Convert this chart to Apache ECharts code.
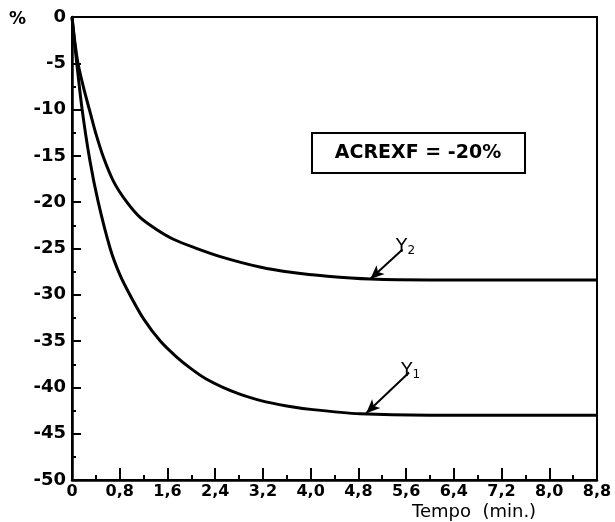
<!DOCTYPE html>
<html>
<head>
<meta charset="utf-8">
<script src="https://cdn.jsdelivr.net/npm/echarts@6/dist/echarts.min.js"></script>
<style>html,body{margin:0;padding:0;background:#fff;}#c{width:615px;height:522px;}</style>
</head>
<body>
<div id="c"></div>
<script>
// Data
var y1Time = [0, 0.04, 0.08, 0.17, 0.30, 0.44, 0.64, 0.80, 0.97, 1.20, 1.48, 1.75, 2.0, 2.25, 2.53, 2.8, 3.15, 3.6, 4.04, 4.83, 6.0, 7.2, 8.8];
var y1Vals = [0, -2.6, -5, -10, -15.5, -20, -25, -27.8, -30, -32.6, -35, -36.7, -38.0, -39.1, -40, -40.7, -41.4, -42.0, -42.4, -42.85, -43.0, -43.0, -43.0];
var y2Time = [0, 0.05, 0.10, 0.20, 0.30, 0.40, 0.53, 0.70, 0.92, 1.15, 1.43, 1.70, 2.05, 2.5, 3.15, 3.7, 4.28, 5.0, 6.0, 7.2, 8.8];
var y2Vals = [0, -2.8, -5, -7.8, -10.2, -12.6, -15.2, -17.8, -20, -21.7, -23, -24.0, -24.9, -25.9, -27.0, -27.6, -28.0, -28.3, -28.4, -28.4, -28.4];
var xTicks = [0, 0.8, 1.6, 2.4, 3.2, 4.0, 4.8, 5.6, 6.4, 7.2, 8.0, 8.8];
var yTicks = [0, -5, -10, -15, -20, -25, -30, -35, -40, -45, -50];
var boxText = 'ACREXF = -20%';
var y2Arrow = [[5.54, -25.1], [5.0, -28.3]];
var y1Arrow = [[5.65, -38.4], [4.93, -42.8]];

function pairs(t, v) { return t.map(function (x, i) { return [x, v[i]]; }); }
var font = 'DejaVu Sans';

var chart = echarts.init(document.getElementById('c'));
chart.setOption({
  animation: false,
  grid: { left: 72, right: 18, top: 17, bottom: 42, show: true, borderColor: '#000', borderWidth: 2, backgroundColor: 'transparent' },
  xAxis: {
    type: 'value', min: 0, max: 8.8, interval: 0.8,
    axisLine: { onZero: false, lineStyle: { color: '#000', width: 2.5 } },
    axisTick: { inside: true, length: 12, lineStyle: { color: '#000', width: 2 } },
    minorTick: { show: true, splitNumber: 2, length: 5, lineStyle: { color: '#000', width: 2 } },
    splitLine: { show: false },
    axisLabel: {
      color: '#000', fontFamily: font, fontWeight: 'bold', fontSize: 16, margin: 4,
      formatter: function (v) {
        var r = Math.round(v * 10) / 10;
        if (xTicks.indexOf(r) < 0) return '';
        return r === 0 ? '0' : r.toFixed(1).replace('.', ',');
      }
    }
  },
  yAxis: {
    type: 'value', min: -50, max: 0, interval: 5,
    axisLine: { onZero: false, lineStyle: { color: '#000', width: 2.5 } },
    axisTick: { inside: true, length: 9, lineStyle: { color: '#000', width: 2 } },
    minorTick: { show: true, splitNumber: 2, length: 4, lineStyle: { color: '#000', width: 2 } },
    splitLine: { show: false },
    axisLabel: {
      color: '#000', fontFamily: font, fontWeight: 'bold', fontSize: 18, margin: 6,
      formatter: function (v) { return yTicks.indexOf(v) >= 0 ? String(v) : ''; }
    }
  },
  series: [
    {
      name: 'Y1', type: 'line', smooth: 0.3, symbol: 'none',
      data: pairs(y1Time, y1Vals),
      lineStyle: { color: '#000', width: 3 },
      markLine: {
        silent: true, symbol: ['none', 'arrow'], symbolSize: [9, 14],
        lineStyle: { color: '#000', width: 2, type: 'solid' },
        label: { show: true, position: 'start', distance: 2, formatter: '{a|Y}{b|1}',
          rich: { a: { fontFamily: font, fontSize: 19, color: '#000' }, b: { fontFamily: font, fontSize: 12, color: '#000', padding: [8, 0, 0, 0] } } },
        data: [[{ coord: y1Arrow[0] }, { coord: y1Arrow[1] }]]
      }
    },
    {
      name: 'Y2', type: 'line', smooth: 0.3, symbol: 'none',
      data: pairs(y2Time, y2Vals),
      lineStyle: { color: '#000', width: 3 },
      markLine: {
        silent: true, symbol: ['none', 'arrow'], symbolSize: [9, 14],
        lineStyle: { color: '#000', width: 2, type: 'solid' },
        label: { show: true, position: 'start', distance: 4, formatter: '{a|Y}{b|2}',
          rich: { a: { fontFamily: font, fontSize: 19, color: '#000' }, b: { fontFamily: font, fontSize: 12, color: '#000', padding: [8, 0, 0, 0] } } },
        data: [[{ coord: y2Arrow[0] }, { coord: y2Arrow[1] }]]
      }
    }
  ],
  graphic: [
    { type: 'rect', shape: { x: 312, y: 133, width: 213, height: 40 }, style: { fill: '#fff', stroke: '#000', lineWidth: 2 } },
    { type: 'text', x: 418, y: 153, style: { text: boxText, fontFamily: font, fontWeight: 'bold', fontSize: 19, fill: '#000', align: 'center', verticalAlign: 'middle' } },
    { type: 'text', x: 9, y: 20, style: { text: '%', fontFamily: font, fontWeight: 'bold', fontSize: 17, fill: '#000', verticalAlign: 'middle' } },
    { type: 'text', x: 412, y: 512, style: { text: 'Tempo  (min.)', fontFamily: font, fontSize: 18, fill: '#000', verticalAlign: 'middle' } }
  ]
});
</script>
</body>
</html>
